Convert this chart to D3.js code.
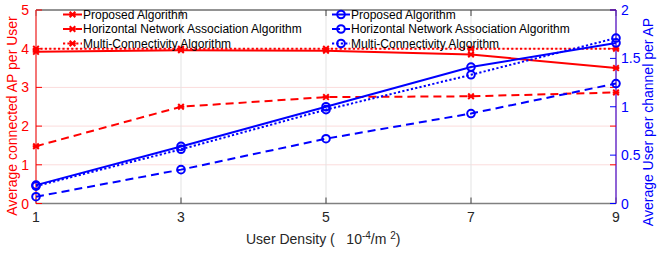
<!DOCTYPE html>
<html><head><meta charset="utf-8">
<script src="https://cdn.jsdelivr.net/npm/d3@7"></script>
<style>body{margin:0;background:#fff}svg{display:block;font-family:"Liberation Sans",Arial,sans-serif}text{white-space:pre}</style>
</head><body><svg id="c" width="657" height="253"></svg>
<script>
const density = [1, 3, 5, 7, 9];
const xTicks = [1, 3, 5, 7, 9];
const leftTicks = [0, 1, 2, 3, 4, 5];
const rightTicks = [0, 0.5, 1, 1.5, 2];
const seriesNames = ["Proposed Algorithm", "Horizontal Network Association Algorithm", "Multi-Connectivity Algorithm"];
// left axis: Average connected AP per User
const apProposed = [3.92, 3.96, 3.95, 3.85, 3.5];
const apHorizontal = [1.48, 2.5, 2.75, 2.77, 2.87];
const apMulti = [4.0, 4.0, 4.0, 4.0, 4.0];
// right axis: Average User per channel per AP
const userProposed = [0.19, 0.59, 1.0, 1.41, 1.66];
const userHorizontal = [0.07, 0.35, 0.67, 0.93, 1.24];
const userMulti = [0.18, 0.56, 0.97, 1.33, 1.71];

const svg = d3.select("#c");
const L = 36, R = 616, T = 10, B = 203.5;
const x = d3.scaleLinear().domain([1, 9]).range([L, R]);
const yL = d3.scaleLinear().domain([0, 5]).range([B, T]);
const yR = d3.scaleLinear().domain([0, 2]).range([B, T]);
const RED = "#ff0000", BLUE = "#0000ff";
const dashes = ["none", "8,5", "2.2,2.2"];

// grid
svg.append("g").selectAll("line").data(leftTicks.slice(1, 5)).join("line")
  .attr("x1", L).attr("x2", R).attr("y1", d => yL(d)).attr("y2", d => yL(d))
  .attr("stroke", "#fbdcdc").attr("stroke-width", 1);
svg.append("g").selectAll("line").data(xTicks.slice(1, 4)).join("line")
  .attr("y1", T).attr("y2", B).attr("x1", d => x(d)).attr("x2", d => x(d))
  .attr("stroke", "#e3e3e3").attr("stroke-width", 1);

// box
svg.append("line").attr("x1", L).attr("x2", R).attr("y1", T).attr("y2", T).attr("stroke", "#262626").attr("stroke-width", 1);
svg.append("line").attr("x1", L).attr("x2", R).attr("y1", B).attr("y2", B).attr("stroke", "#808080").attr("stroke-width", 1.5);

// x ticks
const xt = svg.append("g");
xt.selectAll("line.b").data(xTicks).join("line").attr("class", "b")
  .attr("x1", d => x(d)).attr("x2", d => x(d)).attr("y1", B).attr("y2", B - 6).attr("stroke", "#404040");
xt.selectAll("line.t").data(xTicks).join("line").attr("class", "t")
  .attr("x1", d => x(d)).attr("x2", d => x(d)).attr("y1", T).attr("y2", T + 6).attr("stroke", "#404040");
xt.selectAll("text").data(xTicks).join("text")
  .attr("x", d => x(d)).attr("y", 222).attr("text-anchor", "middle").attr("font-size", 14).attr("fill", "#262626").text(d => d);

// left axis
svg.append("line").attr("x1", L).attr("x2", L).attr("y1", T).attr("y2", B).attr("stroke", "#f04848").attr("stroke-width", 1.5);
const la = svg.append("g");
la.selectAll("line").data(leftTicks).join("line")
  .attr("x1", L).attr("x2", L + 6).attr("y1", d => yL(d)).attr("y2", d => yL(d)).attr("stroke", RED);
la.selectAll("text").data(leftTicks).join("text")
  .attr("x", 29).attr("y", d => yL(d) + 5).attr("text-anchor", "end").attr("font-size", 14).attr("fill", RED).text(d => d);

// right axis
svg.append("line").attr("x1", R).attr("x2", R).attr("y1", T).attr("y2", B).attr("stroke", "#6a2fc8").attr("stroke-width", 1.5);
const ra = svg.append("g");
ra.selectAll("line.r").data(leftTicks).join("line").attr("class", "r")
  .attr("x1", R).attr("x2", R - 6).attr("y1", d => yL(d)).attr("y2", d => yL(d)).attr("stroke", RED);
ra.selectAll("line.b").data(rightTicks).join("line").attr("class", "b")
  .attr("x1", R).attr("x2", R - 6).attr("y1", d => yR(d)).attr("y2", d => yR(d)).attr("stroke", BLUE);
ra.selectAll("text").data(rightTicks).join("text")
  .attr("x", 621).attr("y", d => yR(d) + 5).attr("text-anchor", "start").attr("font-size", 14).attr("fill", BLUE).text(d => d);

// axis labels
svg.append("text").attr("transform", "translate(17,116) rotate(-90)").attr("text-anchor", "middle")
  .attr("font-size", 14).attr("fill", RED).text("Average connected AP per User");
svg.append("text").attr("transform", "translate(653,122) rotate(-90)").attr("text-anchor", "middle")
  .attr("font-size", 14).attr("fill", BLUE).text("Average User per channel per AP");
const xl = svg.append("text").attr("x", 246).attr("y", 244).attr("font-size", 14).attr("fill", "#262626");
xl.append("tspan").text("User Density (   10");
xl.append("tspan").attr("dy", -5).attr("font-size", 10).text("-4");
xl.append("tspan").attr("dy", 5).text("/m ");
xl.append("tspan").attr("dy", -5).attr("font-size", 10).text("2");
xl.append("tspan").attr("dy", 5).text(")");

// marker helpers
function xMark(g, cx, cy, color) {
  const s = 2.8;
  g.append("path").attr("d", `M${cx - s},${cy - s}L${cx + s},${cy + s}M${cx - s},${cy + s}L${cx + s},${cy - s}M${cx - s - 0.5},${cy}L${cx + s + 0.5},${cy}`)
    .attr("stroke", color).attr("stroke-width", 2).attr("fill", "none");
}
function oMark(g, cx, cy, color) {
  g.append("circle").attr("cx", cx).attr("cy", cy).attr("r", 3.8).attr("fill", "none").attr("stroke", color).attr("stroke-width", 2);
}

const line = d3.line();
const redSeries = [apProposed, apHorizontal, apMulti];
const blueSeries = [userProposed, userHorizontal, userMulti];
redSeries.forEach((s, i) => {
  const g = svg.append("g");
  g.append("path").attr("d", line(density.map((d, j) => [x(d), yL(s[j])])))
    .attr("fill", "none").attr("stroke", RED).attr("stroke-width", 2).attr("stroke-dasharray", dashes[i]);
  density.forEach((d, j) => xMark(g, x(d), yL(s[j]), RED));
});
blueSeries.forEach((s, i) => {
  const g = svg.append("g");
  g.append("path").attr("d", line(density.map((d, j) => [x(d), yR(s[j])])))
    .attr("fill", "none").attr("stroke", BLUE).attr("stroke-width", 2).attr("stroke-dasharray", dashes[i]);
  density.forEach((d, j) => oMark(g, x(d), yR(s[j]), BLUE));
});

// legends
const rows = [14.5, 29, 43.5];
function legend(x0, x1, tx, color, mark) {
  const g = svg.append("g");
  seriesNames.forEach((n, i) => {
    g.append("line").attr("x1", x0).attr("x2", x1).attr("y1", rows[i]).attr("y2", rows[i])
      .attr("stroke", color).attr("stroke-width", 2).attr("stroke-dasharray", dashes[i]);
    mark(g, (x0 + x1) / 2, rows[i], color);
    g.append("text").attr("x", tx).attr("y", rows[i] + 4.3).attr("font-size", 12).attr("fill", "#000").text(n);
  });
}
legend(63, 82, 83, RED, xMark);
legend(332, 350, 351, BLUE, oMark);
</script></body></html>
